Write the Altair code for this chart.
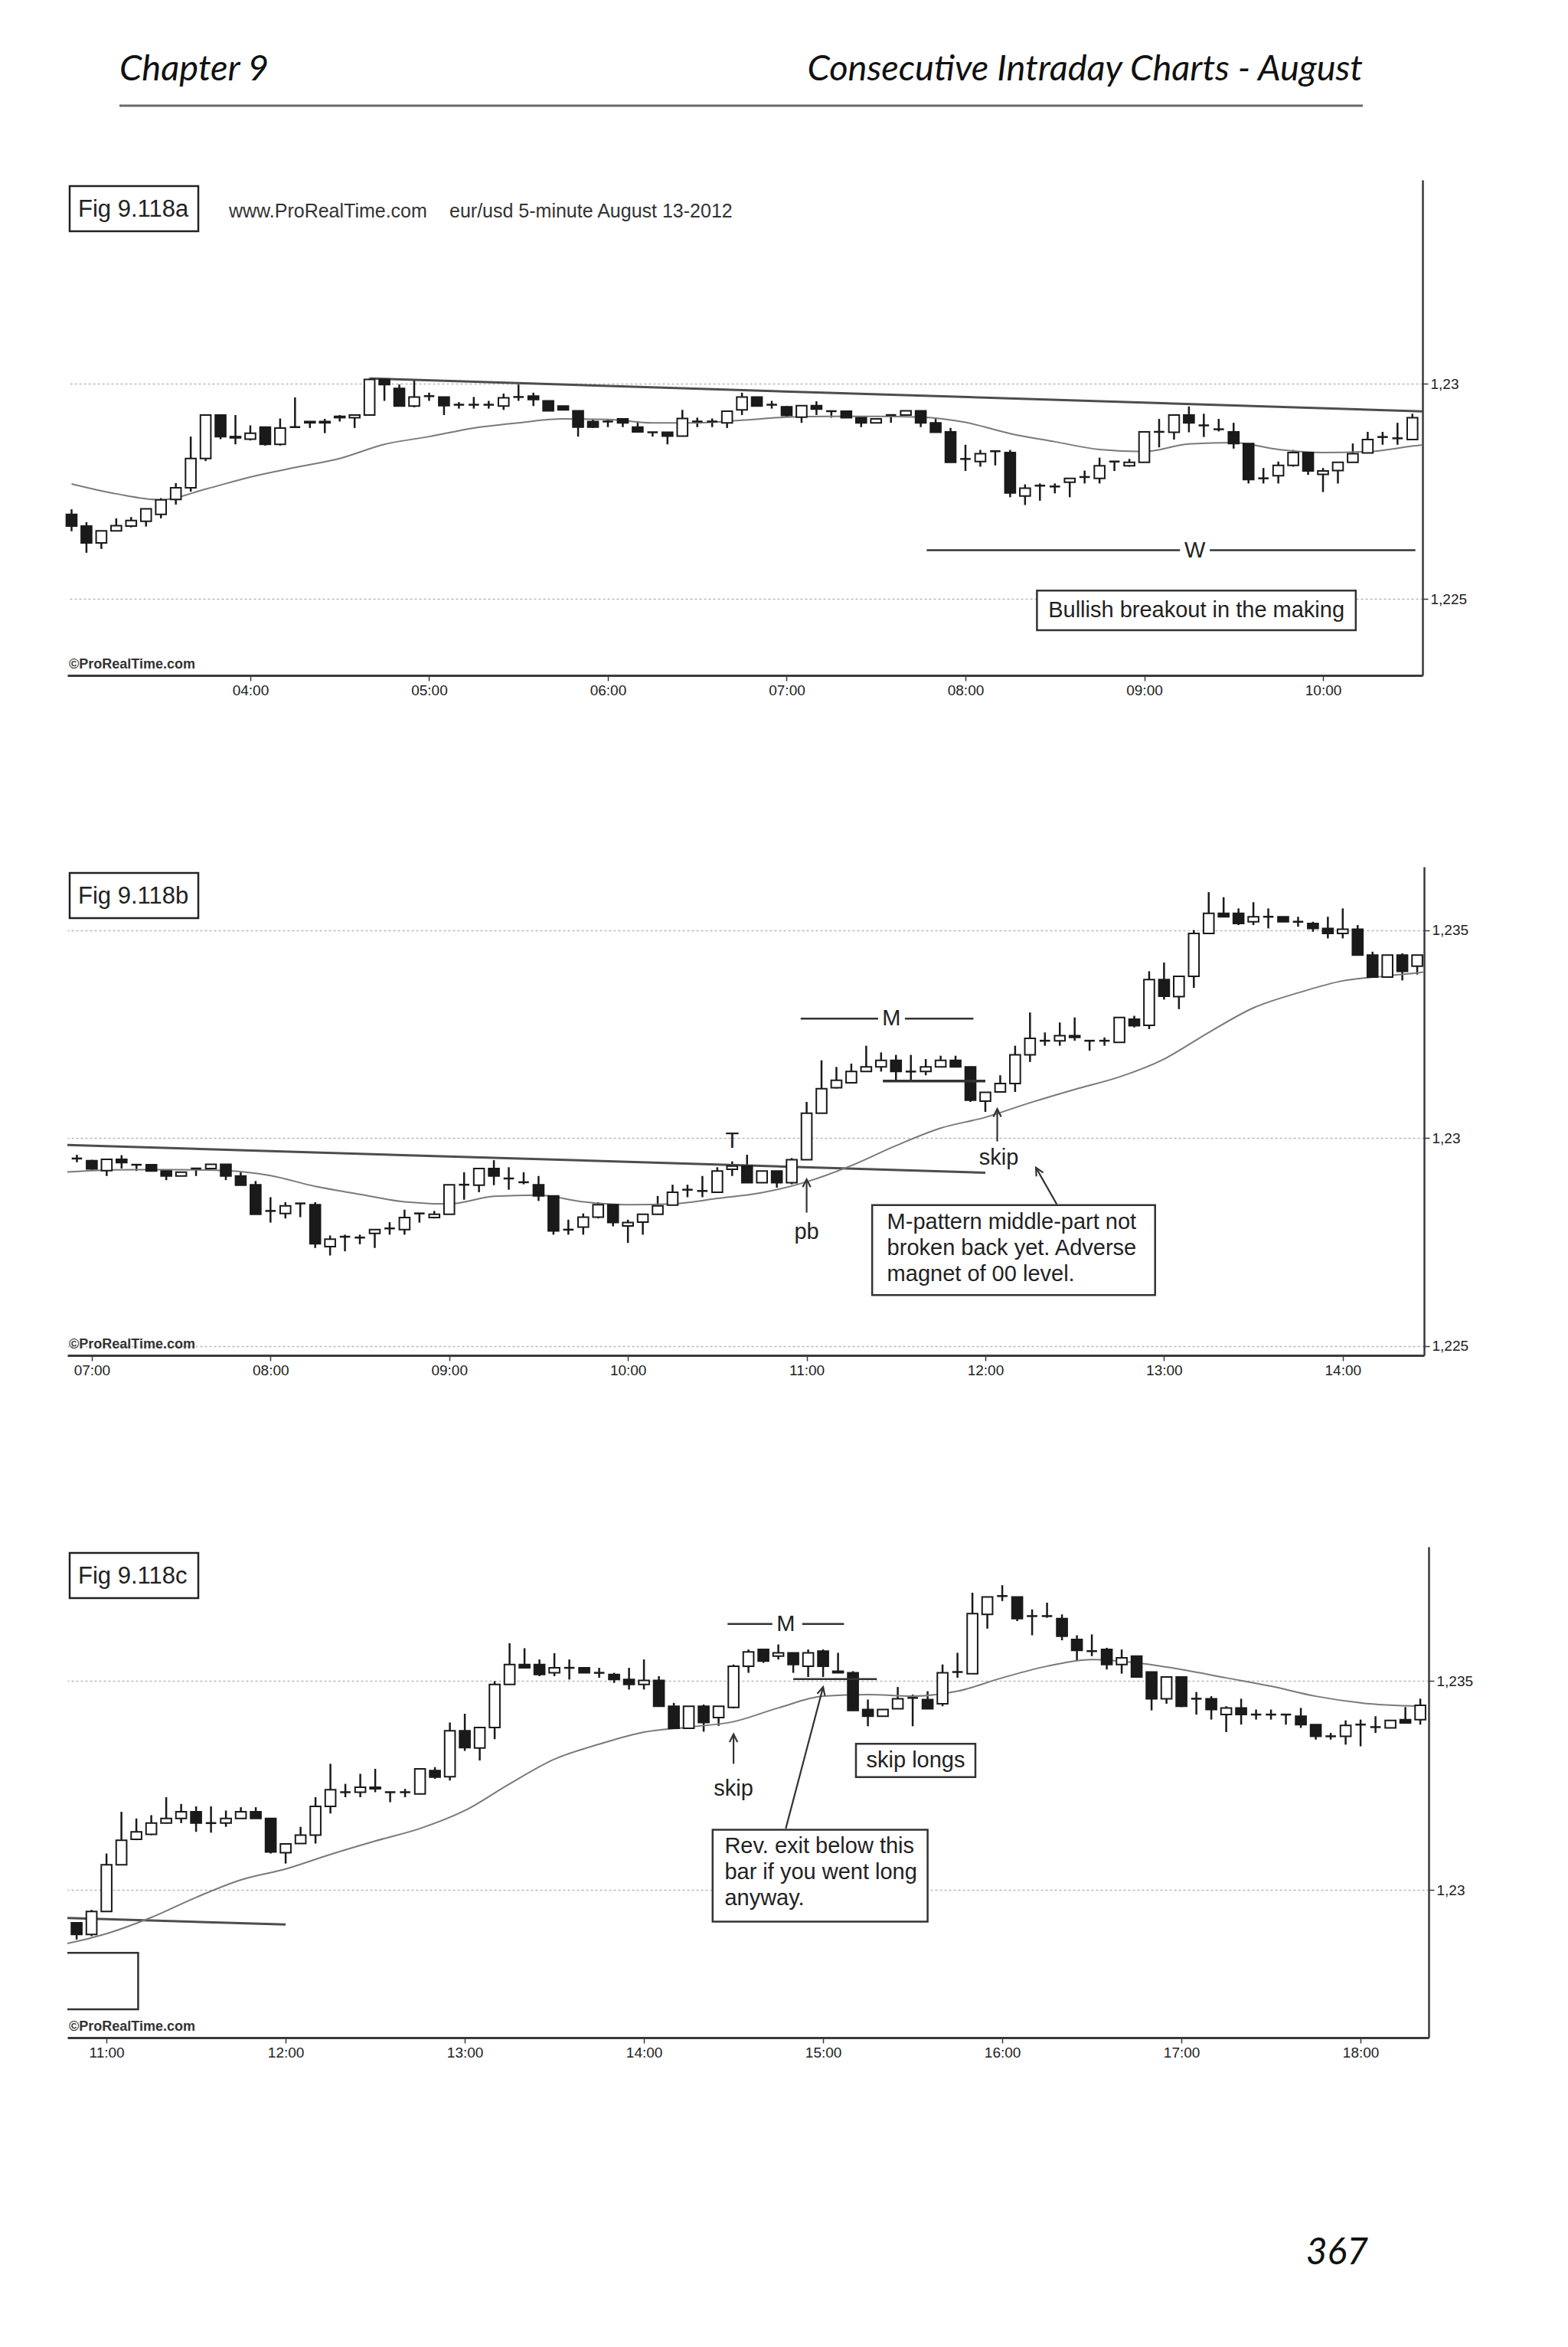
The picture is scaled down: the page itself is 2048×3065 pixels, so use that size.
import altair as alt
import pandas as pd
import numpy as np

FONT = "Liberation Sans"
HEAD_FONT = "Lato"

# ---------------- page texts ----------------
page_left = "Chapter 9"
page_right = "Consecutive Intraday Charts - August"
page_number = "367"
site_text = "www.ProRealTime.com"
instrument_text = "eur/usd 5-minute August 13-2012"
copyright_text = "\u00a9ProRealTime.com"
fig_labels = ["Fig 9.118a", "Fig 9.118b", "Fig 9.118c"]

# ---------------- 5-minute bars, EUR/USD, first bar 03:00 ----------------
FIRST_BAR = "03:00"

opens = [
    # 03:00 - 06:55
    1.22696, 1.22669, 1.22630, 1.22658, 1.22669, 1.22680, 1.22696, 1.22731, 1.22758, 1.22826, 1.22927, 1.22877,
    1.22871, 1.22899, 1.22859, 1.22899, 1.22912, 1.22912, 1.22924, 1.22921, 1.22927, 1.23010, 1.22989, 1.22948,
    1.22971, 1.22969, 1.22951, 1.22951, 1.22951, 1.22948, 1.22969, 1.22971, 1.22960, 1.22948, 1.22937, 1.22912,
    1.22912, 1.22918, 1.22899, 1.22887, 1.22887, 1.22878, 1.22912, 1.22912, 1.22909, 1.22939, 1.22969, 1.22951,
    # 07:00 - 10:30
    1.22946, 1.22922, 1.22949, 1.22936, 1.22936, 1.22921, 1.22909, 1.22927, 1.22927, 1.22937, 1.22909, 1.22888,
    1.22825, 1.22819, 1.22843, 1.22840, 1.22739, 1.22763, 1.22761, 1.22771, 1.22783, 1.22780, 1.22819, 1.22809,
    1.22817, 1.22888, 1.22887, 1.22927, 1.22903, 1.22894, 1.22888, 1.22861, 1.22780, 1.22786, 1.22810, 1.22840,
    1.22789, 1.22798, 1.22817, 1.22839, 1.22876, 1.22873, 1.22870,
    # 10:35 - 14:25
    1.22925, 1.22933, 1.22893, 1.22921, 1.22893,
    1.22948, 1.23060, 1.23121, 1.23133, 1.23160, 1.23171, 1.23187, 1.23160, 1.23160, 1.23171, 1.23187, 1.23171,
    1.23089, 1.23111, 1.23131, 1.23200, 1.23234, 1.23234, 1.23246, 1.23234, 1.23234, 1.23230, 1.23286, 1.23271,
    1.23381, 1.23340, 1.23389, 1.23492, 1.23540, 1.23540, 1.23520, 1.23532, 1.23532, 1.23520, 1.23516, 1.23504,
    1.23492, 1.23502, 1.23440, 1.23387, 1.23440, 1.23413,
    # 14:30 - 18:20
    1.23437, 1.23536, 1.23576, 1.23560, 1.23568, 1.23536,
    1.23572, 1.23524, 1.23520, 1.23432, 1.23416, 1.23434, 1.23460, 1.23456, 1.23446, 1.23522, 1.23518, 1.23660,
    1.23704, 1.23702, 1.23656, 1.23656, 1.23650, 1.23600, 1.23572, 1.23576, 1.23540, 1.23560, 1.23522, 1.23458,
    1.23510, 1.23458, 1.23458, 1.23420, 1.23436, 1.23420, 1.23420, 1.23420, 1.23416, 1.23396, 1.23368, 1.23368,
    1.23396, 1.23390, 1.23388, 1.23408, 1.23408,
]

highs = [
    1.22708, 1.22678, 1.22658, 1.22687, 1.22690, 1.22709, 1.22734, 1.22769, 1.22877, 1.22927, 1.22927, 1.22927,
    1.22903, 1.22899, 1.22919, 1.22968, 1.22912, 1.22918, 1.22927, 1.22927, 1.23012, 1.23010, 1.22998, 1.23010,
    1.22979, 1.22969, 1.22957, 1.22969, 1.22960, 1.22977, 1.22998, 1.22979, 1.22960, 1.22948, 1.22937, 1.22918,
    1.22918, 1.22918, 1.22912, 1.22887, 1.22887, 1.22939, 1.22921, 1.22919, 1.22936, 1.22979, 1.22969, 1.22960,
    1.22948, 1.22949, 1.22959, 1.22936, 1.22936, 1.22921, 1.22918, 1.22927, 1.22937, 1.22937, 1.22918, 1.22897,
    1.22858, 1.22846, 1.22843, 1.22846, 1.22766, 1.22768, 1.22768, 1.22780, 1.22798, 1.22828, 1.22819, 1.22825,
    1.22888, 1.22918, 1.22927, 1.22947, 1.22930, 1.22918, 1.22909, 1.22861, 1.22804, 1.22819, 1.22846, 1.22840,
    1.22804, 1.22817, 1.22861, 1.22888, 1.22888, 1.22909, 1.22930,
    1.22944, 1.22960, 1.22921, 1.22921, 1.22952,
    1.23087, 1.23187, 1.23171, 1.23179, 1.23222, 1.23206, 1.23200, 1.23200, 1.23190, 1.23198, 1.23198, 1.23171,
    1.23110, 1.23151, 1.23222, 1.23302, 1.23254, 1.23278, 1.23290, 1.23234, 1.23242, 1.23290, 1.23294, 1.23401,
    1.23422, 1.23389, 1.23500, 1.23591, 1.23579, 1.23552, 1.23567, 1.23552, 1.23532, 1.23532, 1.23520, 1.23532,
    1.23552, 1.23512, 1.23448, 1.23440, 1.23444, 1.23440,
    1.23540, 1.23576, 1.23576, 1.23588, 1.23568, 1.23576,
    1.23576, 1.23568, 1.23524, 1.23456, 1.23432, 1.23486, 1.23468, 1.23476, 1.23540, 1.23568, 1.23712, 1.23702,
    1.23730, 1.23702, 1.23672, 1.23688, 1.23660, 1.23610, 1.23612, 1.23580, 1.23576, 1.23560, 1.23522, 1.23510,
    1.23510, 1.23474, 1.23464, 1.23440, 1.23458, 1.23432, 1.23432, 1.23420, 1.23436, 1.23396, 1.23376, 1.23406,
    1.23408, 1.23416, 1.23406, 1.23438, 1.23458,
]

lows = [
    1.22657, 1.22607, 1.22616, 1.22658, 1.22666, 1.22668, 1.22687, 1.22719, 1.22749, 1.22820, 1.22871, 1.22859,
    1.22868, 1.22856, 1.22856, 1.22897, 1.22897, 1.22885, 1.22912, 1.22897, 1.22927, 1.22960, 1.22948, 1.22945,
    1.22960, 1.22927, 1.22942, 1.22942, 1.22942, 1.22939, 1.22960, 1.22948, 1.22936, 1.22939, 1.22877, 1.22897,
    1.22899, 1.22899, 1.22887, 1.22877, 1.22859, 1.22877, 1.22899, 1.22899, 1.22897, 1.22927, 1.22948, 1.22942,
    1.22924, 1.22909, 1.22927, 1.22921, 1.22921, 1.22899, 1.22909, 1.22909, 1.22927, 1.22899, 1.22887, 1.22817,
    1.22797, 1.22807, 1.22810, 1.22736, 1.22718, 1.22728, 1.22745, 1.22736, 1.22768, 1.22768, 1.22797, 1.22807,
    1.22817, 1.22852, 1.22870, 1.22887, 1.22876, 1.22889, 1.22849, 1.22768, 1.22768, 1.22768, 1.22807, 1.22788,
    1.22748, 1.22768, 1.22817, 1.22839, 1.22858, 1.22858, 1.22869,
    1.22909, 1.22893, 1.22893, 1.22881, 1.22889,
    1.22948, 1.23060, 1.23119, 1.23131, 1.23159, 1.23160, 1.23139, 1.23137, 1.23151, 1.23171, 1.23171, 1.23087,
    1.23063, 1.23111, 1.23111, 1.23183, 1.23222, 1.23222, 1.23234, 1.23210, 1.23222, 1.23230, 1.23266, 1.23262,
    1.23333, 1.23310, 1.23361, 1.23492, 1.23532, 1.23512, 1.23512, 1.23504, 1.23520, 1.23508, 1.23496, 1.23480,
    1.23480, 1.23440, 1.23387, 1.23387, 1.23379, 1.23393,
    1.23435, 1.23520, 1.23544, 1.23552, 1.23520, 1.23510,
    1.23510, 1.23520, 1.23430, 1.23392, 1.23416, 1.23434, 1.23392, 1.23434, 1.23440, 1.23508, 1.23518, 1.23626,
    1.23692, 1.23644, 1.23610, 1.23652, 1.23598, 1.23550, 1.23560, 1.23528, 1.23518, 1.23510, 1.23430, 1.23446,
    1.23438, 1.23420, 1.23408, 1.23378, 1.23396, 1.23408, 1.23408, 1.23396, 1.23388, 1.23360, 1.23360, 1.23348,
    1.23344, 1.23376, 1.23388, 1.23400, 1.23396,
]

closes = [
    1.22669, 1.22630, 1.22658, 1.22670, 1.22682, 1.22709, 1.22730, 1.22758, 1.22826, 1.22927, 1.22877, 1.22874,
    1.22885, 1.22859, 1.22897, 1.22900, 1.22909, 1.22909, 1.22921, 1.22927, 1.23010, 1.22998, 1.22948, 1.22969,
    1.22971, 1.22949, 1.22951, 1.22951, 1.22951, 1.22967, 1.22969, 1.22963, 1.22937, 1.22939, 1.22899, 1.22899,
    1.22912, 1.22909, 1.22888, 1.22885, 1.22878, 1.22919, 1.22912, 1.22912, 1.22936, 1.22969, 1.22948, 1.22951,
    1.22926, 1.22949, 1.22941, 1.22936, 1.22921, 1.22909, 1.22918, 1.22927, 1.22937, 1.22909, 1.22887, 1.22817,
    1.22825, 1.22837, 1.22843, 1.22746, 1.22757, 1.22763, 1.22761, 1.22780, 1.22783, 1.22809, 1.22819, 1.22817,
    1.22888, 1.22888, 1.22927, 1.22909, 1.22903, 1.22894, 1.22861, 1.22777, 1.22780, 1.22810, 1.22840, 1.22797,
    1.22797, 1.22817, 1.22837, 1.22870, 1.22876, 1.22873, 1.22921,
    1.22933, 1.22893, 1.22921, 1.22893, 1.22948,
    1.23060, 1.23119, 1.23139, 1.23160, 1.23171, 1.23187, 1.23160, 1.23160, 1.23171, 1.23187, 1.23171, 1.23091,
    1.23110, 1.23131, 1.23200, 1.23240, 1.23234, 1.23246, 1.23242, 1.23234, 1.23234, 1.23290, 1.23270, 1.23381,
    1.23341, 1.23389, 1.23492, 1.23540, 1.23532, 1.23516, 1.23532, 1.23532, 1.23520, 1.23520, 1.23504, 1.23492,
    1.23502, 1.23440, 1.23387, 1.23440, 1.23401, 1.23440,
    1.23536, 1.23570, 1.23548, 1.23568, 1.23540, 1.23568,
    1.23536, 1.23520, 1.23430, 1.23416, 1.23432, 1.23458, 1.23460, 1.23434, 1.23520, 1.23522, 1.23662, 1.23702,
    1.23704, 1.23650, 1.23656, 1.23656, 1.23608, 1.23574, 1.23572, 1.23540, 1.23556, 1.23510, 1.23458, 1.23510,
    1.23440, 1.23458, 1.23432, 1.23436, 1.23420, 1.23420, 1.23420, 1.23420, 1.23396, 1.23368, 1.23368, 1.23394,
    1.23394, 1.23390, 1.23406, 1.23400, 1.23442,
]

# ---------------- moving average (read every 15 min) ----------------
ma_times = ["03:00", "03:15", "03:30", "03:45", "04:00", "04:15", "04:30", "04:45", "05:00", "05:15", "05:30",
            "05:45", "06:00", "06:15", "06:30", "06:45", "07:00", "07:15", "07:30", "07:45", "08:00", "08:15",
            "08:30", "08:45", "09:00", "09:15", "09:30", "09:45", "10:00", "10:15", "10:30", "10:45", "11:00",
            "11:15", "11:30", "11:45", "12:00", "12:15", "12:30", "12:45", "13:00", "13:15", "13:30", "13:45",
            "14:00", "14:15", "14:30", "14:45", "15:00", "15:15", "15:30", "15:45", "16:00", "16:15", "16:30",
            "16:45", "17:00", "17:15", "17:30", "17:45", "18:00", "18:20"]
ma_values = [1.22767, 1.22744, 1.22730, 1.22755, 1.22783, 1.22805, 1.22826, 1.22859, 1.22877, 1.22897, 1.22909,
             1.22918, 1.22917, 1.22909, 1.22909, 1.22915, 1.22922, 1.22924, 1.22924, 1.22922, 1.22910, 1.22884,
             1.22865, 1.22847, 1.22842, 1.22860, 1.22863, 1.22847, 1.22840, 1.22842, 1.22855, 1.22869, 1.22895,
             1.22934, 1.22982, 1.23024, 1.23050, 1.23085, 1.23117, 1.23147, 1.23190, 1.23254, 1.23313, 1.23349,
             1.23378, 1.23390, 1.23403, 1.23436, 1.23464, 1.23468, 1.23464, 1.23476, 1.23508, 1.23536, 1.23552,
             1.23544, 1.23528, 1.23508, 1.23488, 1.23464, 1.23448, 1.23440]

# ---------------- drawn trendline ----------------
trend_times = ["04:40", "12:00"]
trend_values = [1.23012, 1.22917]

# ---------------- annotations ----------------
# chart a
a_lines = {"t1": ["07:47", "09:22"], "t2": ["09:12", "10:31"], "p": [1.22613, 1.22613]}
a_labels = {"t": ["09:17"], "p": [1.22613], "s": ["W"]}
a_box = {"t1": ["08:24"], "t2": ["10:11"], "p1": [1.22427], "p2": [1.22519]}
a_box_text = {"t": ["09:17.5"], "p": [1.22473], "s": ["Bullish breakout in the making"]}

# chart b
b_lines = {"t1": ["10:58", "11:33"], "t2": ["11:24", "11:56"], "p": [1.23287, 1.23287]}
b_thick = {"t1": ["11:25.6"], "t2": ["12:00"], "p": [1.23137]}
b_labels = {"t": ["10:35", "11:28.5", "11:00", "12:04.5"], "p": [1.22994, 1.23287, 1.22774, 1.22952],
            "s": ["T", "M", "pb", "skip"]}
b_arrows = {"t1": ["11:00", "12:04", "12:24"], "t2": ["11:00", "12:04", "12:17"],
            "p1": [1.22821, 1.22992, 1.22841], "p2": [1.22901, 1.23070, 1.22929], "ang": [0, 0, 331]}
b_box = {"t1": ["11:22"], "t2": ["12:57"], "p1": [1.22623], "p2": [1.22839]}
b_box_text = {"t": ["11:27"], "p": [1.22798],
              "s": ["M-pattern middle-part not\nbroken back yet. Adverse\nmagnet of 00 level."]}

# chart c
c_lines = {"t1": ["14:28", "14:53", "14:50"], "t2": ["14:43", "15:07", "15:18"],
           "p": [1.23637, 1.23637, 1.23505]}
c_labels = {"t": ["14:47.5", "14:30"], "p": [1.23637, 1.23242], "s": ["M", "skip"]}
c_arrows = {"t1": ["14:30", "14:47.5"], "t2": ["14:30", "15:00"],
            "p1": [1.23302, 1.23147], "p2": [1.23373, 1.23486], "ang": [0, 15]}
c_box = {"t1": ["14:23"], "t2": ["15:35"], "p1": [1.22924], "p2": [1.23144]}
c_box_text = {"t": ["14:27"], "p": [1.23104], "s": ["Rev. exit below this\nbar if you went long\nanyway."]}
c_box2 = {"t1": ["15:11"], "t2": ["15:51"], "p1": [1.23270], "p2": [1.23350]}
c_box2_text = {"t": ["15:31"], "p": [1.23310], "s": ["skip longs"]}
c_frame = {"t1": ["10:00"], "t2": ["11:10.6"], "p1": [1.22714], "p2": [1.22849]}


def to_min(s):
    h, m = s.split(":")
    return int(h) * 60 + float(m)


def tdf(d, keys):
    df = pd.DataFrame(d)
    for k in keys:
        df[k] = df[k].map(to_min)
    return df


n = len(opens)
assert len(highs) == n and len(lows) == n and len(closes) == n
bars = pd.DataFrame({"o": opens, "h": highs, "l": lows, "c": closes})
bars["t"] = to_min(FIRST_BAR) + 5 * np.arange(n)
bars["x1"] = bars["t"] - 1.75
bars["x2"] = bars["t"] + 1.75
bars["bl"] = bars[["o", "c"]].min(axis=1)
bars["bh"] = bars[["o", "c"]].max(axis=1)
diff = bars["c"] - bars["o"]
bars["kind"] = np.where(diff.abs() < 0.00002, "doji", np.where(diff > 0, "up", "down"))

ma = pd.DataFrame({"t": [to_min(s) for s in ma_times], "v": ma_values})
trend = pd.DataFrame({"t": [to_min(s) for s in trend_times], "v": trend_values})

XLAB = "(floor(datum.value/60) < 10 ? '0' : '') + floor(datum.value/60) + ':00'"
YLAB = "replace(format(datum.value, '.3~f'), '.', ',')"
ARROW = "M-0.5,1L0,0L0.5,1"
INK = "#1a1a1a"


def one(s):
    return pd.DataFrame({"s": [s]})


def panel(t0, t1, p0, p1, w, h, xticks, yticks, fig, ann, extra_front=None, extra_back=None):
    xs = alt.Scale(domain=[t0, t1], nice=False, zero=False)
    ys = alt.Scale(domain=[p0, p1], nice=False, zero=False)
    xax = alt.Axis(values=xticks, labelExpr=XLAB, title=None, grid=False, domainColor="#3a3a3a",
                   domainWidth=3, tickColor="#3a3a3a", tickWidth=1.5, tickSize=7, labelFont=FONT,
                   labelFontSize=19, labelColor="#222222", labelPadding=3)
    yax = alt.Axis(orient="right", values=yticks, labelExpr=YLAB, title=None, grid=True,
                   gridColor="#b8b8b8", gridDash=[3, 3], gridWidth=1.5, domainColor="#3a3a3a",
                   domainWidth=2.5, tickColor="#3a3a3a", tickSize=7, tickWidth=1.5, labelFont=FONT,
                   labelFontSize=19, labelColor="#222222", labelPadding=3)

    def X(f):
        return alt.X(f, type="quantitative", scale=xs, axis=xax)

    def Y(f):
        return alt.Y(f, type="quantitative", scale=ys, axis=yax)

    sel = bars[(bars["t"] >= t0) & (bars["t"] <= t1)]
    layers = []
    if extra_back is not None:
        layers += extra_back
    layers.append(alt.Chart(sel).mark_rule(color=INK, strokeWidth=2.5).encode(
        x=X("t"), y=Y("l"), y2=alt.Y2("h")))
    layers.append(alt.Chart(trend).mark_line(clip=True, color="#4d4d4d", strokeWidth=3).encode(
        x=X("t"), y=Y("v")))
    layers.append(alt.Chart(ma).mark_line(clip=True, color="#7a7a7a", strokeWidth=2,
                                          interpolate="monotone").encode(x=X("t"), y=Y("v")))
    layers.append(alt.Chart(sel[sel["kind"] == "up"]).mark_rect(fill="white", stroke=INK, strokeWidth=2).encode(
        x=X("x1"), x2=alt.X2("x2"), y=Y("bl"), y2=alt.Y2("bh")))
    layers.append(alt.Chart(sel[sel["kind"] == "down"]).mark_rect(fill=INK, stroke=INK, strokeWidth=2).encode(
        x=X("x1"), x2=alt.X2("x2"), y=Y("bl"), y2=alt.Y2("bh")))
    layers.append(alt.Chart(sel[sel["kind"] == "doji"]).mark_rule(color=INK, strokeWidth=2.5).encode(
        x=X("x1"), x2=alt.X2("x2"), y=Y("o")))

    # annotations
    for kind, d in ann:
        if kind == "hline":
            df = tdf(d, ["t1", "t2"])
            sw = 3.5 if d.get("thick") else 2.5
            layers.append(alt.Chart(df[["t1", "t2", "p"]]).mark_rule(color="#333333", strokeWidth=sw).encode(
                x=X("t1"), x2=alt.X2("t2"), y=Y("p")))
        elif kind in ("label", "ctext"):
            df = tdf(d, ["t"])
            layers.append(alt.Chart(df).mark_text(font=FONT, fontSize=29, color="#222222", align="center",
                                                  baseline="middle").encode(x=X("t"), y=Y("p"), text="s:N"))
        elif kind == "box":
            df = tdf(d, ["t1", "t2"])
            layers.append(alt.Chart(df).mark_rect(fill="white", stroke="#333333", strokeWidth=2.5,
                                                  clip=True).encode(
                x=X("t1"), x2=alt.X2("t2"), y=Y("p1"), y2=alt.Y2("p2")))
        elif kind == "frame":
            df = tdf(d, ["t1", "t2"])
            layers.append(alt.Chart(df).mark_rect(fill="white", fillOpacity=0, stroke="#333333",
                                                  strokeWidth=2.5, clip=True).encode(
                x=X("t1"), x2=alt.X2("t2"), y=Y("p1"), y2=alt.Y2("p2")))
        elif kind == "boxtext":
            df = tdf(d, ["t"])
            layers.append(alt.Chart(df).mark_text(font=FONT, fontSize=29, color="#222222", align="left",
                                                  baseline="middle", lineBreak="\n", lineHeight=34).encode(
                x=X("t"), y=Y("p"), text="s:N"))
        elif kind == "arrow":
            df = tdf(d, ["t1", "t2"])
            layers.append(alt.Chart(df).mark_rule(color="#333333", strokeWidth=2.2).encode(
                x=X("t1"), x2=alt.X2("t2"), y=Y("p1"), y2=alt.Y2("p2")))
            layers.append(alt.Chart(df).mark_point(shape=ARROW, filled=False, stroke="#333333", strokeWidth=2.2,
                                                   size=420, opacity=1).encode(
                x=X("t2"), y=Y("p2"), angle=alt.Angle("ang:Q", scale=None)))

    # fig label box, copyright
    layers.append(alt.Chart(one(fig)).mark_rect(fill="white", stroke="#222222", strokeWidth=2.5).encode(
        x=alt.value(3), x2=alt.value(171), y=alt.value(8), y2=alt.value(67)))
    layers.append(alt.Chart(one(fig)).mark_text(font=FONT, fontSize=31, color="#222222", align="left",
                                                baseline="middle").encode(
        x=alt.value(14), y=alt.value(39), text="s:N"))
    layers.append(alt.Chart(one(copyright_text)).mark_text(font=FONT, fontSize=18, fontWeight="bold",
                                                           color="#333333", align="left",
                                                           baseline="bottom").encode(
        x=alt.value(2), y=alt.value(h - 5), text="s:N"))
    if extra_front is not None:
        layers += extra_front
    return alt.layer(*layers).properties(width=w, height=h)


# page-level decorations (pixel positions relative to the first panel's plot area)
page_back = [
    alt.Chart(one("page")).mark_rect(fill="white", opacity=0, strokeWidth=0).encode(
        x=alt.value(-80), x2=alt.value(1952), y=alt.value(-227), y2=alt.value(2822)),
]
page_front = [
    alt.Chart(one("rule")).mark_rule(color="#6a6a6a", strokeWidth=3).encode(
        x=alt.value(68), x2=alt.value(1692), y=alt.value(-97)),
    alt.Chart(one(page_left)).mark_text(font=HEAD_FONT, fontStyle="italic", fontSize=47, color="#111111",
                                        align="left", baseline="alphabetic").encode(
        x=alt.value(68), y=alt.value(-130), text="s:N"),
    alt.Chart(one(page_right)).mark_text(font=HEAD_FONT, fontStyle="italic", fontSize=47, color="#111111",
                                         align="right", baseline="alphabetic").encode(
        x=alt.value(1692), y=alt.value(-130), text="s:N"),
    alt.Chart(one(page_number)).mark_text(font=HEAD_FONT, fontStyle="italic", fontSize=48, color="#111111",
                                          align="right", baseline="alphabetic").encode(
        x=alt.value(1699), y=alt.value(2722), text="s:N"),
    alt.Chart(one(site_text)).mark_text(font=FONT, fontSize=25, color="#333333", align="left",
                                        baseline="middle").encode(
        x=alt.value(211), y=alt.value(41), text="s:N"),
    alt.Chart(one(instrument_text)).mark_text(font=FONT, fontSize=25, color="#333333", align="left",
                                              baseline="middle").encode(
        x=alt.value(499), y=alt.value(41), text="s:N"),
]

ann_a = [("hline", a_lines), ("label", a_labels), ("box", a_box), ("ctext", a_box_text)]
ann_b = [("hline", b_lines), ("hline", dict(b_thick, thick=[True])), ("label", b_labels),
         ("arrow", b_arrows), ("box", b_box), ("boxtext", b_box_text)]
ann_c = [("frame", c_frame), ("hline", c_lines), ("label", c_labels), ("arrow", c_arrows),
         ("box", c_box), ("boxtext", c_box_text), ("box", c_box2), ("ctext", c_box2_text)]

pa = panel(178.6, 633.4, 1.223221, 1.234733, 1770, 647,
           [240, 300, 360, 420, 480, 540, 600], [1.225, 1.23], fig_labels[0], ann_a,
           extra_front=page_front, extra_back=page_back)
pb = panel(411.8, 867.3, 1.224779, 1.236520, 1772, 638,
           [420, 480, 540, 600, 660, 720, 780, 840], [1.225, 1.23, 1.235], fig_labels[1], ann_b)
pc = panel(646.9, 1102.8, 1.226459, 1.238220, 1778, 641,
           [660, 720, 780, 840, 900, 960, 1020, 1080], [1.23, 1.235], fig_labels[2], ann_c)

chart = alt.vconcat(pa, pb, pc, spacing=250, bounds="flush").resolve_scale(
    x="independent", y="independent").properties(padding=0, background="white").configure_view(strokeWidth=0)

chart.save("out.html", embed_options={"renderer": "svg", "actions": False})
